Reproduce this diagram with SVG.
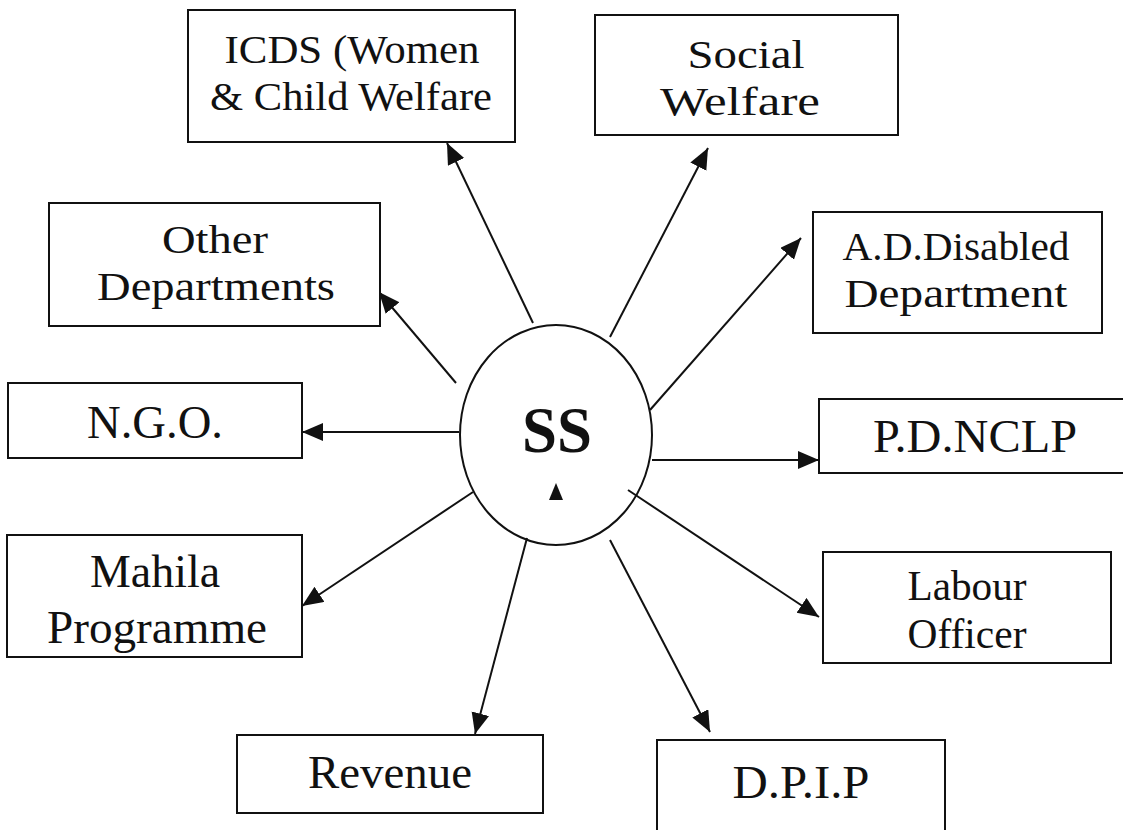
<svg xmlns="http://www.w3.org/2000/svg" width="1123" height="830" viewBox="0 0 1123 830">
<style>
.box{fill:#fff;stroke:#111;stroke-width:2}
.t{font-family:"Liberation Serif","Times New Roman",serif;font-size:46px;fill:#111;text-anchor:middle}
.m{font-size:40px}
.s{font-size:42px}
.c{stroke:#111;stroke-width:2;fill:none;marker-end:url(#ah)}
</style>
<defs>
<marker id="ah" markerUnits="userSpaceOnUse" markerWidth="22" markerHeight="20" refX="21" refY="9" orient="auto">
<path d="M0,0 L21,9 L0,18 z" fill="#111"/>
</marker>
</defs>
<rect width="1123" height="830" fill="#fff"/>
<g id="connectors">
<line class="c" x1="533" y1="323" x2="447" y2="143"/>
<line class="c" x1="610" y1="337" x2="708" y2="148"/>
<line class="c" x1="650" y1="410" x2="801" y2="238"/>
<line class="c" x1="456" y1="383" x2="379" y2="292"/>
<line class="c" x1="459" y1="432" x2="302" y2="432"/>
<line class="c" x1="652" y1="460" x2="819" y2="460"/>
<line class="c" x1="628" y1="490" x2="819" y2="617"/>
<line class="c" x1="473" y1="492" x2="302" y2="606"/>
<line class="c" x1="527" y1="538" x2="475" y2="734"/>
<line class="c" x1="610" y1="540" x2="710" y2="732"/>
</g>
<g id="ss">
<ellipse cx="556" cy="435" rx="96" ry="110" fill="none" stroke="#111" stroke-width="2"/>
<text x="557" y="452" font-family="Liberation Serif,'Times New Roman',serif" font-weight="bold" font-size="66" text-anchor="middle" fill="#111" textLength="70" lengthAdjust="spacingAndGlyphs">SS</text>
<path d="M556,483 L563,500 L549,500 z" fill="#111"/>
</g>
<g id="icds">
<rect class="box" x="188" y="10" width="327" height="132"/>
<text class="t m" x="352" y="63" textLength="255" lengthAdjust="spacingAndGlyphs">ICDS (Women</text>
<text class="t m" x="351" y="110" textLength="282" lengthAdjust="spacingAndGlyphs">&amp; Child Welfare</text>
</g>
<g id="social">
<rect class="box" x="595" y="15" width="303" height="120"/>
<text class="t m" x="746" y="68" textLength="117" lengthAdjust="spacingAndGlyphs">Social</text>
<text class="t m" x="740" y="115" textLength="160" lengthAdjust="spacingAndGlyphs">Welfare</text>
</g>
<g id="other">
<rect class="box" x="49" y="203" width="331" height="123"/>
<text class="t m" x="215" y="253" textLength="106" lengthAdjust="spacingAndGlyphs">Other</text>
<text class="t m" x="216" y="300" textLength="238" lengthAdjust="spacingAndGlyphs">Departments</text>
</g>
<g id="disabled">
<rect class="box" x="813" y="212" width="289" height="121"/>
<text class="t m" x="956" y="260" textLength="227" lengthAdjust="spacingAndGlyphs">A.D.Disabled</text>
<text class="t m" x="956" y="307" textLength="223" lengthAdjust="spacingAndGlyphs">Department</text>
</g>
<g id="ngo">
<rect class="box" x="8" y="383" width="294" height="75"/>
<text class="t" x="155" y="438" textLength="136" lengthAdjust="spacingAndGlyphs">N.G.O.</text>
</g>
<g id="pdnclp">
<rect class="box" x="819" y="399" width="310" height="74"/>
<text class="t" x="975" y="452" textLength="204" lengthAdjust="spacingAndGlyphs">P.D.NCLP</text>
</g>
<g id="mahila">
<rect class="box" x="7" y="535" width="295" height="122"/>
<text class="t" x="155" y="587" textLength="130" lengthAdjust="spacingAndGlyphs">Mahila</text>
<text class="t" x="157" y="643" textLength="220" lengthAdjust="spacingAndGlyphs">Programme</text>
</g>
<g id="labour">
<rect class="box" x="823" y="552" width="288" height="111"/>
<text class="t s" x="967" y="600" textLength="119" lengthAdjust="spacingAndGlyphs">Labour</text>
<text class="t s" x="967" y="648" textLength="119" lengthAdjust="spacingAndGlyphs">Officer</text>
</g>
<g id="revenue">
<rect class="box" x="237" y="735" width="306" height="78"/>
<text class="t" x="390" y="788" textLength="164" lengthAdjust="spacingAndGlyphs">Revenue</text>
</g>
<g id="dpip">
<rect class="box" x="657" y="740" width="288" height="120"/>
<text class="t" x="801" y="798" textLength="137" lengthAdjust="spacingAndGlyphs">D.P.I.P</text>
</g>
</svg>
